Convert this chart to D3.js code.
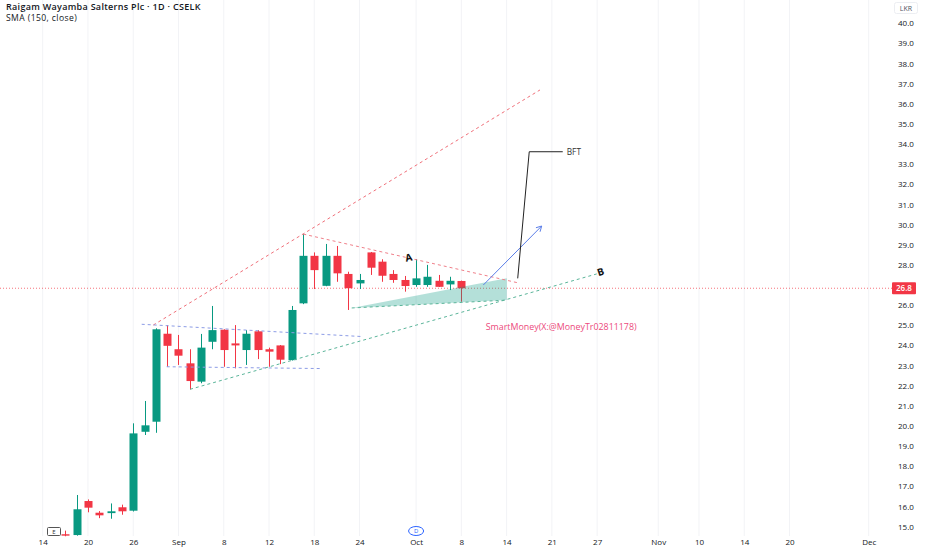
<!DOCTYPE html>
<html>
<head>
<meta charset="utf-8">
<script src="https://cdn.jsdelivr.net/npm/d3@7"></script>
<style>
  body { margin: 0; background: #fff; }
  svg { display: block; font-family: "Open Sans", "Noto Sans", sans-serif; }
</style>
</head>
<body>
<svg id="chart" width="932" height="550"></svg>
<script>
// Candles (bar index, OHLC)
const firstBar = 2;
const opens  = [14.62, 14.58, 16.27, 15.69, 15.67, 15.96, 15.79, 19.71, 20.21, 24.58, 23.81, 23.11, 22.20, 24.18, 24.78, 24.10, 23.77, 24.70, 23.81, 24.00, 23.27, 26.09, 28.45, 26.96, 28.45, 27.55, 27.08, 28.62, 28.16, 27.55, 27.25, 27.00, 27.00, 27.21, 27.03, 27.20];
const highs  = [14.80, 16.57, 16.35, 15.77, 16.15, 16.09, 20.13, 21.24, 24.85, 25.01, 24.52, 23.81, 24.57, 25.96, 24.80, 25.01, 24.76, 24.76, 23.89, 24.02, 25.96, 29.53, 28.62, 29.04, 28.94, 27.66, 27.55, 28.64, 28.28, 27.74, 27.45, 28.29, 28.00, 27.50, 27.41, 27.22];
const lows   = [14.52, 14.55, 15.71, 15.42, 15.39, 15.59, 15.75, 19.55, 19.66, 22.94, 23.03, 21.82, 22.12, 23.81, 22.94, 22.86, 23.03, 23.32, 22.94, 23.07, 23.25, 26.05, 26.80, 26.94, 27.16, 25.76, 26.80, 27.50, 27.16, 27.11, 26.67, 26.91, 26.91, 26.90, 26.75, 26.17];
const closes = [14.55, 15.86, 15.94, 15.56, 15.76, 15.76, 19.63, 20.03, 24.80, 23.98, 23.49, 22.23, 23.89, 24.76, 23.77, 24.00, 24.58, 23.77, 23.69, 23.29, 25.76, 28.45, 27.74, 28.45, 27.58, 26.84, 27.25, 27.86, 27.46, 27.25, 26.95, 27.33, 27.41, 26.91, 27.21, 26.84];

// Time axis labels (bar index)
const tickIdx    = [0, 4, 8, 12, 16, 20, 24, 28, 33, 37, 41, 45, 49, 54.4, 58, 62, 66, 73];
const tickLabels = ["14", "20", "26", "Sep", "8", "12", "18", "24", "Oct", "8", "14", "21", "27", "Nov", "10", "14", "20", "Dec"];

// Price axis
const priceTicks = d3.range(15, 41, 1);
const lastPrice = 26.84;

// Drawings [bar index, price]
const channelUp  = [[9.77, 25.01], [43.95, 36.69]];
const flagTop    = [[8.75, 25.05], [28.22, 24.44]];
const flagBottom = [[10.96, 22.94], [24.68, 22.85]];
const support    = [[13.02, 21.82], [48.96, 27.55]];
const wedgeTop   = [[23.03, 29.53], [42.07, 27.10]];
const wedgeFill  = [[27.31, 25.86], [41.01, 27.33], [41.01, 26.25]];
const arrowLine  = [[38.94, 27.0], [44.10, 29.93]];
const callout    = [[41.98, 27.33], [43.0, 33.62], [45.96, 33.62]];

const green = "#089981", red = "#f23645";

const candles = opens.map((o, i) => ({
  i: firstBar + i, o: o, h: highs[i], l: lows[i], c: closes[i]
}));

const svg = d3.select("#chart");

const x = d3.scaleLinear().domain([0, 73]).range([42.7, 868.7]);
const y = d3.scaleLinear().domain([15, 40]).range([526.6, 23.3]);

// vertical grid
svg.append("g")
  .selectAll("line")
  .data(tickIdx)
  .enter()
  .append("line")
  .attr("x1", d => x(d)).attr("x2", d => x(d))
  .attr("y1", 0).attr("y2", 536)
  .attr("stroke", "#f2f3f6")
  .attr("stroke-width", 1);

const line = d3.line().x(d => x(d[0])).y(d => y(d[1]));

// last price line
svg.append("line")
  .attr("x1", 0).attr("x2", 892)
  .attr("y1", y(lastPrice)).attr("y2", y(lastPrice))
  .attr("stroke", red)
  .attr("stroke-opacity", 0.7)
  .attr("stroke-dasharray", "1,2");

// candles
let bars = svg.append("g").selectAll("g")
  .data(candles)
  .enter()
  .append("g");

bars.append("line")
  .attr("x1", d => Math.round(x(d.i)) + 0.5)
  .attr("x2", d => Math.round(x(d.i)) + 0.5)
  .attr("y1", d => y(d.h))
  .attr("y2", d => y(d.l))
  .attr("stroke", d => d.c >= d.o ? green : red);

bars.append("rect")
  .attr("x", d => Math.round(x(d.i)) - 3.5)
  .attr("width", 8)
  .attr("y", d => y(Math.max(d.o, d.c)))
  .attr("height", d => Math.max(1, Math.abs(y(d.o) - y(d.c))))
  .attr("fill", d => d.c >= d.o ? green : red);

// wedge fill
svg.append("path")
  .attr("d", line(wedgeFill) + "Z")
  .attr("fill", green)
  .attr("fill-opacity", 0.3);

// trend lines
const dashed = [
  { pts: channelUp,  color: "#f0707a" },
  { pts: flagTop,    color: "#8c9ce6" },
  { pts: flagBottom, color: "#8c9ce6" },
  { pts: support,    color: "#5bb59a" },
  { pts: wedgeTop,   color: "#f0808a" },
  { pts: [wedgeFill[0], wedgeFill[2]], color: "#5bb59a" }
];
svg.append("g")
  .selectAll("path")
  .data(dashed)
  .enter()
  .append("path")
  .attr("d", d => line(d.pts))
  .attr("fill", "none")
  .attr("stroke", d => d.color)
  .attr("stroke-width", 1)
  .attr("stroke-dasharray", "3,3");

// blue arrow
svg.append("path")
  .attr("d", line(arrowLine))
  .attr("stroke", "#5b7ee8")
  .attr("stroke-width", 1)
  .attr("fill", "none");
let a0 = arrowLine[0], a1 = arrowLine[1];
let ang = Math.atan2(y(a1[1]) - y(a0[1]), x(a1[0]) - x(a0[0]));
let hx = x(a1[0]), hy = y(a1[1]);
svg.append("path")
  .attr("d", `M${hx - 6 * Math.cos(ang - 0.5)},${hy - 6 * Math.sin(ang - 0.5)}L${hx},${hy}L${hx - 6 * Math.cos(ang + 0.5)},${hy - 6 * Math.sin(ang + 0.5)}`)
  .attr("stroke", "#5b7ee8")
  .attr("fill", "none");

// BFT callout
svg.append("path")
  .attr("d", line(callout))
  .attr("stroke", "#222")
  .attr("stroke-width", 1)
  .attr("fill", "none");
svg.append("text")
  .text("BFT")
  .attr("x", x(callout[2][0]) + 4)
  .attr("y", y(callout[2][1]) + 3)
  .attr("font-size", 8.3)
  .attr("fill", "#333");

// labels A / B
svg.append("text")
  .text("A")
  .attr("transform", `translate(${x(32.4)},${y(28.36) + 3.5}) rotate(-12)`)
  .attr("text-anchor", "middle")
  .attr("font-size", 10)
  .attr("font-weight", "bold")
  .attr("fill", "#111");
svg.append("text")
  .text("B")
  .attr("transform", `translate(${x(49.4)},${y(27.66) + 3.5}) rotate(-18)`)
  .attr("text-anchor", "middle")
  .attr("font-size", 10)
  .attr("font-weight", "bold")
  .attr("fill", "#111");

// watermark text
svg.append("text")
  .text("SmartMoney(X:@MoneyTr02811178)")
  .attr("x", x(39.15))
  .attr("y", y(24.91) + 3.2)
  .attr("font-size", 8.9)
  .attr("fill", "#ec4a7c");

// price axis
let yAxis = svg.append("g")
  .attr("transform", "translate(895,0)")
  .call(d3.axisRight(y).tickValues(priceTicks).tickFormat(d3.format(".1f")).tickSize(0).tickPadding(3));
yAxis.select(".domain").remove();
yAxis.selectAll("text").attr("font-size", 8).attr("fill", "#131722").attr("font-family", "Open Sans");

// last price tag
svg.append("rect")
  .attr("x", 892).attr("y", y(lastPrice) - 6)
  .attr("width", 24).attr("height", 12)
  .attr("rx", 1)
  .attr("fill", red);
svg.append("text")
  .text(lastPrice.toFixed(1))
  .attr("x", 904).attr("y", y(lastPrice) + 3)
  .attr("text-anchor", "middle")
  .attr("font-size", 8)
  .attr("font-weight", 600)
  .attr("fill", "#fff");

// currency
svg.append("rect")
  .attr("x", 894.5).attr("y", 2.5)
  .attr("width", 23).attr("height", 11)
  .attr("rx", 2)
  .attr("fill", "#fff")
  .attr("stroke", "#eceef2");
svg.append("text")
  .text("LKR")
  .attr("x", 906).attr("y", 11)
  .attr("text-anchor", "middle")
  .attr("font-size", 7)
  .attr("fill", "#50535e");

// time axis
let xAxis = svg.append("g")
  .attr("transform", "translate(0,536)")
  .call(d3.axisBottom(x).tickValues(tickIdx).tickFormat((d, i) => tickLabels[i]).tickSize(0).tickPadding(3.5));
xAxis.select(".domain").remove();
xAxis.selectAll("text").attr("font-size", 8).attr("fill", "#131722").attr("font-family", "Open Sans");

// event markers
svg.append("rect")
  .attr("x", 47.5).attr("y", 527.5)
  .attr("width", 13).attr("height", 8)
  .attr("rx", 1)
  .attr("fill", "#fff")
  .attr("stroke", "#555");
svg.append("text")
  .text("E")
  .attr("x", 54).attr("y", 534)
  .attr("text-anchor", "middle")
  .attr("font-size", 6)
  .attr("fill", "#333");
svg.append("ellipse")
  .attr("cx", x(33)).attr("cy", 531)
  .attr("rx", 7.5).attr("ry", 4.5)
  .attr("fill", "#fff")
  .attr("stroke", "#2962ff");
svg.append("text")
  .text("D")
  .attr("x", x(33)).attr("y", 533.3)
  .attr("text-anchor", "middle")
  .attr("font-size", 6)
  .attr("fill", "#2962ff");

// header
svg.append("text")
  .text("Raigam Wayamba Salterns Plc · 1D · CSELK")
  .attr("x", 6).attr("y", 9.5)
  .attr("font-size", 9)
  .attr("font-weight", 600)
  .attr("letter-spacing", 0.3)
  .attr("fill", "#131722");
svg.append("text")
  .text("SMA (150, close)")
  .attr("x", 6).attr("y", 21)
  .attr("font-size", 8.6)
  .attr("letter-spacing", 0.4)
  .attr("fill", "#131722");
</script>
</body>
</html>
